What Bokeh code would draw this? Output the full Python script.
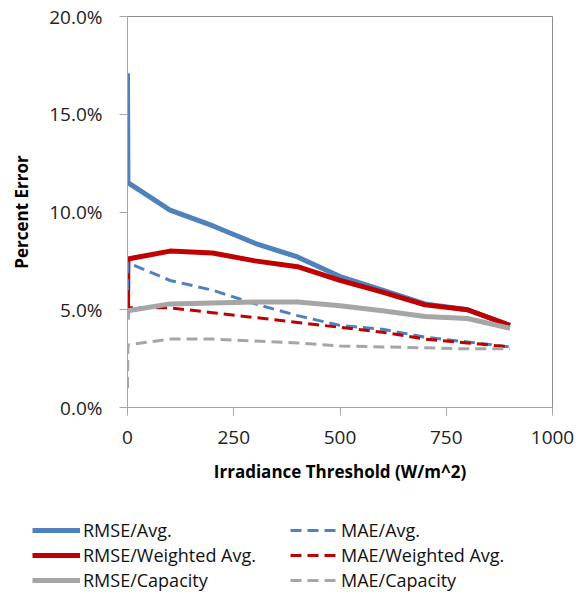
from bokeh.plotting import figure
from bokeh.models import Range1d, PrintfTickFormatter, FixedTicker, Legend, LegendItem
from bokeh.layouts import column
from bokeh.embed import file_html
from bokeh.resources import INLINE

# Data (percent error vs irradiance threshold)
threshold = [0, 1, 100, 200, 300, 400, 500, 600, 700, 800, 900]
rmse_avg = [17.1, 11.5, 10.1, 9.3, 8.4, 7.7, 6.7, 6.0, 5.3, 5.0, 4.2]
rmse_wavg = [5.0, 7.6, 8.0, 7.9, 7.5, 7.2, 6.5, 5.9, 5.25, 5.0, 4.2]
rmse_cap = [4.5, 4.95, 5.3, 5.35, 5.4, 5.4, 5.2, 4.95, 4.65, 4.55, 4.05]
mae_avg = [6.0, 7.4, 6.5, 6.0, 5.3, 4.7, 4.2, 4.0, 3.6, 3.35, 3.1]
mae_wavg = [4.8, 5.1, 5.1, 4.85, 4.6, 4.35, 4.1, 3.85, 3.5, 3.3, 3.1]
mae_cap = [1.0, 3.2, 3.5, 3.5, 3.4, 3.3, 3.15, 3.1, 3.05, 3.0, 3.0]

x_ticks = [0, 250, 500, 750, 1000]
y_ticks = [0, 5, 10, 15, 20]

BLUE = "#4F81BD"
RED = "#C00000"
GREY = "#A6A6A6"
FONT = "Open Sans"

STYLES = [
    ("RMSE/Avg.", rmse_avg, BLUE, 5, "solid"),
    ("RMSE/Weighted Avg.", rmse_wavg, RED, 5, "solid"),
    ("MAE/Avg.", mae_avg, BLUE, 3, "11 6"),
    ("MAE/Weighted Avg.", mae_wavg, RED, 3, "11 6"),
    ("RMSE/Capacity", rmse_cap, GREY, 5, "solid"),
    ("MAE/Capacity", mae_cap, GREY, 3, "11 6"),
]

p = figure(width=580, height=500, output_backend="svg", toolbar_location=None,
           x_range=Range1d(0, 1000), y_range=Range1d(0, 20),
           min_border_left=127, min_border_right=28, min_border_top=16, min_border_bottom=93)
p.frame_align = False
p.background_fill_color = "white"
p.border_fill_color = "white"
p.outline_line_color = "#8C8C8C"
p.outline_line_width = 1
p.xgrid.visible = False
p.ygrid.visible = False

for name, ys, col, w, dash in STYLES:
    p.line(threshold, ys, line_color=col, line_width=w, line_dash=dash)

for ax in (p.xaxis[0], p.yaxis[0]):
    ax.axis_line_color = "#A6A6A6"
    ax.major_tick_line_color = "#A6A6A6"
    ax.minor_tick_line_color = None
    ax.major_tick_in = 0
    ax.major_tick_out = 8
    ax.major_label_text_font = FONT
    ax.major_label_text_font_size = "19px"
    ax.major_label_text_color = "#222222"
    ax.axis_label_text_font = FONT
    ax.axis_label_text_font_style = "bold"
    ax.axis_label_text_font_size = "17px"
    ax.axis_label_text_color = "#000000"

p.xaxis.ticker = FixedTicker(ticks=x_ticks)
p.yaxis.ticker = FixedTicker(ticks=y_ticks)
p.yaxis.formatter = PrintfTickFormatter(format="%.1f%%")
p.xaxis.major_label_standoff = 15
p.yaxis.major_label_standoff = 17
p.xaxis.axis_label = "Irradiance Threshold (W/m^2)"
p.yaxis.axis_label = "Percent Error"
p.xaxis.axis_label_standoff = 13
p.yaxis.axis_label_standoff = 13

# Legend figure (below the chart); its lines lie outside its visible range,
# so only the legend entries show.
lf = figure(width=580, height=92, output_backend="svg", toolbar_location=None,
            x_range=Range1d(2000, 3000), y_range=Range1d(100, 200),
            min_border_left=0, min_border_right=0, min_border_top=0, min_border_bottom=0)
lf.frame_align = False
lf.axis.visible = False
lf.grid.visible = False
lf.outline_line_color = None
lf.background_fill_color = "white"
lf.border_fill_color = "white"

items = []
for name, ys, col, w, dash in STYLES:
    r = lf.line(threshold, ys, line_color=col, line_width=w, line_dash=dash)
    items.append(LegendItem(label=name, renderers=[r]))

def make_legend(its, loc):
    return Legend(items=its, location=loc, orientation="vertical",
                  glyph_width=48, glyph_height=18, label_height=18,
                  label_standoff=3, spacing=1, padding=0, margin=0,
                  label_text_font=FONT, label_text_font_size="18px",
                  label_text_color="#111111",
                  border_line_color=None, background_fill_alpha=0)

leg1 = make_legend([items[0], items[1], items[4]], (32, 0))
leg2 = make_legend([items[2], items[3], items[5]], (290, 0))
lf.add_layout(leg1, "center")
lf.add_layout(leg2, "center")

layout = column(p, lf, spacing=0)
open("out.html", "w").write(file_html(layout, INLINE))
